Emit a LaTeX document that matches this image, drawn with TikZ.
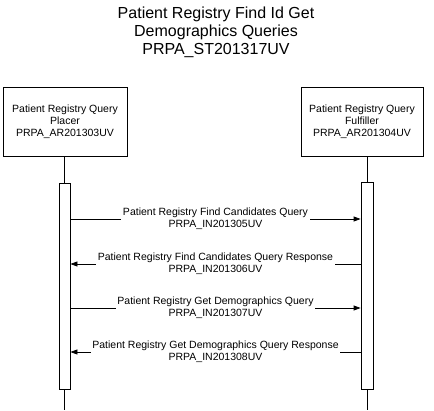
\documentclass[tikz,border=0pt]{standalone}
\usepackage{fontspec}
\setmainfont{Liberation Sans}
\usetikzlibrary{arrows.meta}
\begin{document}
\begin{tikzpicture}[x=1pt,y=-1pt,
  actor/.style={draw=black,line width=0.8pt,minimum width=124pt,minimum height=69pt,inner sep=0pt,align=center,font=\fontsize{10.5}{12}\selectfont},
  bar/.style={draw=black,line width=0.8pt,fill=white,minimum width=11pt,inner sep=0pt},
  life/.style={draw=black,line width=0.8pt},
  msg/.style={draw=black,line width=0.8pt,-{Triangle[length=7pt,width=5pt]}},
  lbl/.style={fill=white,inner xsep=1.5pt,inner ysep=0pt,align=center,font=\fontsize{10.5}{12}\selectfont}]
\useasboundingbox (0,0) rectangle (434,410);
\node[align=center,font=\fontsize{16}{18}\selectfont] (title) at (216,32) {Patient Registry Find Id Get\\Demographics Queries\\PRPA\_ST201317UV};
\node[actor] (placer) at (65,121.5) {Patient Registry Query\\Placer\\PRPA\_AR201303UV};
\node[actor,minimum width=122pt] (fulfiller) at (362,121.5) {Patient Registry Query\\Fulfiller\\PRPA\_AR201304UV};
\node[bar,minimum height=206pt] (barL) at (64.5,286) {};
\node[bar,minimum width=12pt,minimum height=207pt] (barR) at (367,285.5) {};
\coordinate (endL) at (64.5,410);
\coordinate (endR) at (367,410);
\draw[life] (placer.south -| barL.north) -- (barL.north);
\draw[life] (fulfiller.south -| barR.north) -- (barR.north);
\draw[life] (barL.south) -- (endL);
\draw[life] (barR.south) -- (endR);
\coordinate (m1s) at (barL.east |- 0,219);
\coordinate (m1e) at (barR.west |- 0,219);
\coordinate (m2s) at (barR.west |- 0,264);
\coordinate (m2e) at (barL.east |- 0,264);
\coordinate (m3s) at (barL.east |- 0,308);
\coordinate (m3e) at (barR.west |- 0,308);
\coordinate (m4s) at (barR.west |- 0,352);
\coordinate (m4e) at (barL.east |- 0,352);
\draw[msg] (m1s) -- node[lbl] (l1) {Patient Registry Find Candidates Query\\PRPA\_IN201305UV} (m1e);
\draw[msg] (m2s) -- node[lbl] (l2) {Patient Registry Find Candidates Query Response\\PRPA\_IN201306UV} (m2e);
\draw[msg] (m3s) -- node[lbl] (l3) {Patient Registry Get Demographics Query\\PRPA\_IN201307UV} (m3e);
\draw[msg] (m4s) -- node[lbl] (l4) {Patient Registry Get Demographics Query Response\\PRPA\_IN201308UV} (m4e);
\end{tikzpicture}
\end{document}
